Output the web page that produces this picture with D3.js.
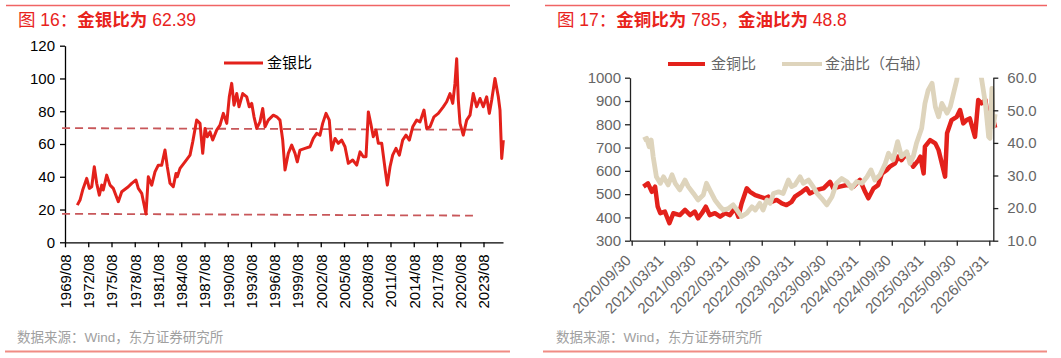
<!DOCTYPE html>
<html><head><meta charset="utf-8">
<script src="https://cdn.jsdelivr.net/npm/d3@7"></script>
<style>
body{margin:0;background:#fff}
svg{display:block;font-family:"Liberation Sans","Noto Sans CJK SC",sans-serif}
</style></head><body>
<svg id="c" width="1061" height="358"></svg>
<script>
// ---------- Chart 16: gold / silver ratio ----------
const gsYears = [1971.17,1971.52,1971.86,1972.38,1972.72,1973.03,1973.36,1973.67,1974.01,1974.32,1974.52,1974.96,1975.39,1975.81,1976.46,1976.90,1977.75,1978.19,1978.74,1979.04,1979.48,1980.03,1980.33,1980.77,1981.19,1981.62,1982.06,1982.48,1982.78,1983.13,1983.55,1983.90,1984.07,1984.42,1985.06,1985.71,1986.06,1986.57,1987.00,1987.35,1987.65,1987.94,1988.29,1988.64,1989.15,1989.58,1990.01,1990.45,1990.78,1991.09,1991.39,1991.74,1992.03,1992.51,1993.03,1993.36,1993.67,1993.97,1994.32,1994.74,1995.09,1995.39,1995.81,1996.46,1996.90,1997.32,1997.67,1997.97,1998.39,1998.83,1999.26,1999.55,1999.90,2000.55,2001.19,2001.62,2002.06,2002.48,2002.83,2003.26,2003.68,2003.99,2004.42,2004.85,2005.28,2005.71,2006.14,2006.70,2007.22,2007.65,2008.07,2008.42,2008.72,2009.03,2009.36,2009.71,2010.01,2010.45,2010.87,2011.17,2011.52,2011.86,2012.29,2012.72,2013.15,2013.58,2014.01,2014.45,2014.96,2015.39,2015.90,2016.25,2016.68,2017.19,2017.75,2018.39,2018.83,2019.26,2019.61,2019.90,2020.12,2020.33,2020.55,2020.97,2021.41,2021.84,2022.26,2022.70,2023.13,2023.55,2023.99,2024.33,2024.64,2025.06,2025.49,2025.71,2025.93,2026.14];
const gsValues = [22.7,25.8,31.9,39,32.9,33.9,46.1,36,28.8,34.9,31.9,41,34.9,32.9,24.8,30.9,33.9,36,38,32.9,29.9,17.3,40,34.9,43,47.1,47.1,56.3,46.1,36,33.9,42,40,45.1,49.1,53.2,61.3,74.6,72.6,54.3,69.5,64.4,67.4,62.4,68.5,71.5,78.7,72.6,88.8,97,83.7,90.8,82.7,90.8,88.8,82.7,84.8,76.6,69.5,73.5,81.7,70.5,74.6,77.6,76.6,74.6,62.4,44.1,54.3,59.3,54.3,49.1,56.3,57.3,58.3,63.4,66.5,65.4,72.6,78.7,74.6,56.3,63.4,60.4,62.4,58.3,48.2,50.2,47.1,55.2,52.2,52.2,79.6,72.6,64.4,68.5,60.4,60.4,45.1,34.9,46.1,53.2,57.3,53.2,62.4,65.4,62.4,70.5,74.6,73.5,80.7,69.5,70.5,76.6,78.7,82.7,85.8,90.8,84.8,97,112,86.8,72.6,65.4,74.6,77.6,90.8,82.7,87.8,82.7,88.8,78.7,86.8,100,88.8,80.7,51.2,62.39];
const gsBandYears = [1969.2, 2022.22];
const gsUpperBand = [69.7, 68.7];
const gsLowerBand = [17.4, 16.3];
const gsYTicks = [0, 20, 40, 60, 80, 100, 120];
const gsXTickLabels = ["1969/08","1972/08","1975/08","1978/08","1981/08","1984/08","1987/08","1990/08","1993/08","1996/08","1999/08","2002/08","2005/08","2008/08","2011/08","2014/08","2017/08","2020/08","2023/08"];

// ---------- Chart 17: gold/copper & gold/oil ----------
const cuYears = [2020.93,2021.00,2021.06,2021.11,2021.15,2021.19,2021.26,2021.33,2021.39,2021.49,2021.57,2021.65,2021.72,2021.77,2021.83,2021.89,2021.95,2022.03,2022.11,2022.19,2022.26,2022.34,2022.39,2022.44,2022.52,2022.57,2022.65,2022.72,2022.80,2022.85,2022.90,2022.98,2023.06,2023.13,2023.21,2023.26,2023.37,2023.44,2023.49,2023.60,2023.70,2023.80,2023.85,2023.95,2024.06,2024.16,2024.26,2024.34,2024.39,2024.47,2024.54,2024.60,2024.67,2024.72,2024.80,2024.85,2024.90,2024.98,2025.03,2025.08,2025.16,2025.19,2025.24,2025.26,2025.34,2025.42,2025.47,2025.52,2025.57,2025.60,2025.67,2025.75,2025.80,2025.85,2025.90,2025.95,2026.03,2026.08,2026.13,2026.19,2026.24,2026.29,2026.34];
const cuValues = [532,546,510,532,446,418,425,375,418,410,432,410,425,396,418,446,410,418,403,418,410,440,403,460,525,510,496,489,482,489,467,475,460,453,467,489,510,525,503,518,525,553,525,532,539,532,561,510,482,525,539,589,603,618,632,661,646,675,646,618,646,661,589,704,732,718,689,632,575,761,818,832,861,804,818,825,746,904,890,904,804,847,785];
const oilYears = [2020.93,2020.98,2021.02,2021.05,2021.08,2021.13,2021.19,2021.24,2021.31,2021.37,2021.42,2021.49,2021.57,2021.62,2021.70,2021.77,2021.85,2021.90,2021.95,2022.03,2022.11,2022.16,2022.24,2022.31,2022.37,2022.44,2022.52,2022.60,2022.65,2022.72,2022.77,2022.83,2022.88,2022.93,2023.01,2023.08,2023.16,2023.21,2023.26,2023.34,2023.39,2023.47,2023.54,2023.60,2023.67,2023.75,2023.83,2023.90,2023.98,2024.06,2024.13,2024.21,2024.29,2024.37,2024.43,2024.49,2024.57,2024.65,2024.70,2024.77,2024.84,2024.90,2024.98,2025.03,2025.08,2025.13,2025.21,2025.26,2025.31,2025.37,2025.42,2025.47,2025.52,2025.60,2025.65,2025.70,2025.75,2025.77,2025.83,2025.92,2026.03,2026.10,2026.13,2026.19,2026.24,2026.26,2026.29,2026.31,2026.34];
const oilValues = [40.9,41.4,38.8,40.9,35.8,29.6,27.6,29.6,27.1,30.2,27.6,25.6,28.6,26.6,24.5,22.5,24.0,27.6,25.6,22.5,20.4,19.4,19.9,21.0,19.4,17.4,18.4,20.4,19.4,21.5,19.4,22.5,21.5,24.5,25.0,24.5,28.6,26.6,27.1,29.6,27.6,28.6,26.6,24.5,23.0,21.0,23.5,27.6,29.1,28.1,26.1,28.1,27.6,29.6,31.7,28.6,30.2,33.7,36.8,34.8,40.4,35.8,37.3,33.7,35.8,39.9,44.5,52.1,56.2,58.3,51.1,48.0,52.1,49.1,51.1,55.2,59.3,62,66,68,65,62,59.8,52.1,41.9,41.4,56.7,45,48.8];
const cuYTicks = [300,400,500,600,700,800,900,1000];
const oilYTicks = [10,20,30,40,50,60];
const rightXTickLabels = ["2020/09/30","2021/03/31","2021/09/30","2022/03/31","2022/09/30","2023/03/31","2023/09/30","2024/03/31","2024/09/30","2025/03/31","2025/09/30","2026/03/31"];

const RED = "#e3211b", BEIGE = "#ded4bc", DASH = "#c8575a", TITLE = "#e8231c";
const svg = d3.select("#c");

// frame lines
svg.append("line").attr("x1",6).attr("x2",510).attr("y1",5.5).attr("y2",5.5).attr("stroke","#f06464").attr("stroke-width",1.5);
svg.append("line").attr("x1",545).attr("x2",1047).attr("y1",5.5).attr("y2",5.5).attr("stroke","#f06464").attr("stroke-width",1.5);
svg.append("line").attr("x1",5).attr("x2",510).attr("y1",351.5).attr("y2",351.5).attr("stroke","#f08c84").attr("stroke-width",2);
svg.append("line").attr("x1",543).attr("x2",1047).attr("y1",351.5).attr("y2",351.5).attr("stroke","#f08c84").attr("stroke-width",2);

function title(x, parts){
  const t = svg.append("text").attr("x",x).attr("y",26).attr("fill",TITLE).style("font-size","17.5px");
  parts.forEach(p => t.append("tspan").text(p[0]).style("font-weight", p[1] ? "bold" : "normal"));
}
title(18, [["图 16：",0],["金银比为",1],[" 62.39",0]]);
title(557, [["图 17：",0],["金铜比为",1],[" 785，",0],["金油比为",1],[" 48.8",0]]);

svg.append("text").attr("x",17).attr("y",342).attr("fill","#a0a0a0").style("font-size","13.5px").text("数据来源：Wind，东方证券研究所");
svg.append("text").attr("x",556).attr("y",342).attr("fill","#a0a0a0").style("font-size","13.5px").text("数据来源：Wind，东方证券研究所");

// ---------- left chart ----------
{
  const x0 = 1969.58, step = 3;
  const x = d3.scaleLinear().domain([x0, x0 + 438/7.75]).range([65, 503]);
  const y = d3.scaleLinear().domain([0, 120]).range([242.3, 45.7]);
  const g = svg.append("g");
  const yAx = g.append("g").attr("transform","translate(65,0)")
    .call(d3.axisLeft(y).tickValues(gsYTicks).tickSize(5).tickSizeOuter(0));
  yAx.selectAll("text").style("font-size","15px").attr("fill","#000").attr("x",-10);
  yAx.selectAll("line,path").attr("stroke","#000").attr("stroke-width",1.3);
  const tickVals = gsXTickLabels.map((d,i) => x0 + step*i);
  const xAx = g.append("g").attr("transform","translate(0,242.3)")
    .call(d3.axisBottom(x).tickValues(tickVals).tickFormat((d,i)=>gsXTickLabels[i]).tickSize(5).tickSizeOuter(0));
  xAx.selectAll("line,path").attr("stroke","#000").attr("stroke-width",1.3);
  xAx.selectAll("text").style("font-size","15px").attr("fill","#000")
    .attr("transform","rotate(-90)").attr("x",-12).attr("y",0).attr("dy","0.35em").style("text-anchor","end");

  const band = d3.line().x(d=>x(d[0])).y(d=>y(d[1]));
  [gsUpperBand, gsLowerBand].forEach(vals => {
    g.append("path").attr("d", band(gsBandYears.map((yr,i)=>[yr, vals[i]])))
      .attr("fill","none").attr("stroke",DASH).attr("stroke-width",1.8).attr("stroke-dasharray","8,5");
  });
  const line = d3.line().x((d,i)=>x(gsYears[i])).y(d=>y(d));
  g.append("path").attr("d", line(gsValues)).attr("fill","none").attr("stroke",RED)
    .attr("stroke-width",3).attr("stroke-linejoin","round");

  g.append("line").attr("x1",224).attr("x2",263).attr("y1",63).attr("y2",63).attr("stroke",RED).attr("stroke-width",3);
  g.append("text").attr("x",267).attr("y",63).attr("dy","0.35em").style("font-size","15px").attr("fill","#000").text("金银比");
}

// ---------- right chart ----------
{
  const x0 = 2020.75;
  const x = d3.scaleLinear().domain([x0 - 1.7/65, 2026.25 + 4/65]).range([630, 993.3]);
  const yL = d3.scaleLinear().domain([300, 1000]).range([240.7, 77.7]);
  const yR = d3.scaleLinear().domain([10, 60]).range([240.7, 77.7]);
  const g = svg.append("g");
  svg.append("defs").append("clipPath").attr("id","rc").append("rect")
    .attr("x",630).attr("y",77.7).attr("width",368).attr("height",164);

  const pL = g.append("g").attr("clip-path","url(#rc)");
  const lineCu = d3.line().x((d,i)=>x(cuYears[i])).y(d=>yL(d));
  const lineOil = d3.line().x((d,i)=>x(oilYears[i])).y(d=>yR(d));
  pL.append("path").attr("d", lineCu(cuValues)).attr("fill","none").attr("stroke",RED)
    .attr("stroke-width",4.5).attr("stroke-linejoin","round");
  pL.append("path").attr("d", lineOil(oilValues)).attr("fill","none").attr("stroke",BEIGE)
    .attr("stroke-width",4.8).attr("stroke-linejoin","round");

  const styleAx = a => {
    a.selectAll("line,path").attr("stroke","#222").attr("stroke-width",1.3);
    a.selectAll("text").style("font-size","15px").attr("fill","#666");
  };
  const aL = g.append("g").attr("transform","translate(630,0)")
    .call(d3.axisLeft(yL).tickValues(cuYTicks).tickFormat(d3.format("d")).tickSize(5).tickSizeOuter(0));
  styleAx(aL); aL.selectAll("text").attr("x",-9);
  const aR = g.append("g").attr("transform","translate(993.3,0)")
    .call(d3.axisRight(yR).tickValues(oilYTicks).tickFormat(d3.format(".1f")).tickSize(5).tickSizeOuter(0));
  styleAx(aR); aR.selectAll("text").attr("x",14);
  const tickVals = rightXTickLabels.map((d,i)=>x0 + 0.5*i);
  const aB = g.append("g").attr("transform","translate(0,240.7)")
    .call(d3.axisBottom(x).tickValues(tickVals).tickFormat((d,i)=>rightXTickLabels[i]).tickSize(5).tickSizeOuter(0));
  styleAx(aB);
  aB.selectAll("text").attr("x",0).attr("y",0).attr("dy","0.35em")
    .attr("transform","translate(-4,17) rotate(-45)").style("text-anchor","end");

  g.append("line").attr("x1",668).attr("x2",705).attr("y1",64).attr("y2",64).attr("stroke",RED).attr("stroke-width",4);
  g.append("text").attr("x",711).attr("y",64).attr("dy","0.35em").style("font-size","15px").attr("fill","#666").text("金铜比");
  g.append("line").attr("x1",782).attr("x2",822).attr("y1",64).attr("y2",64).attr("stroke",BEIGE).attr("stroke-width",4);
  g.append("text").attr("x",825).attr("y",64).attr("dy","0.35em").style("font-size","15px").attr("fill","#666").text("金油比（右轴）");
}
</script>
</body></html>
